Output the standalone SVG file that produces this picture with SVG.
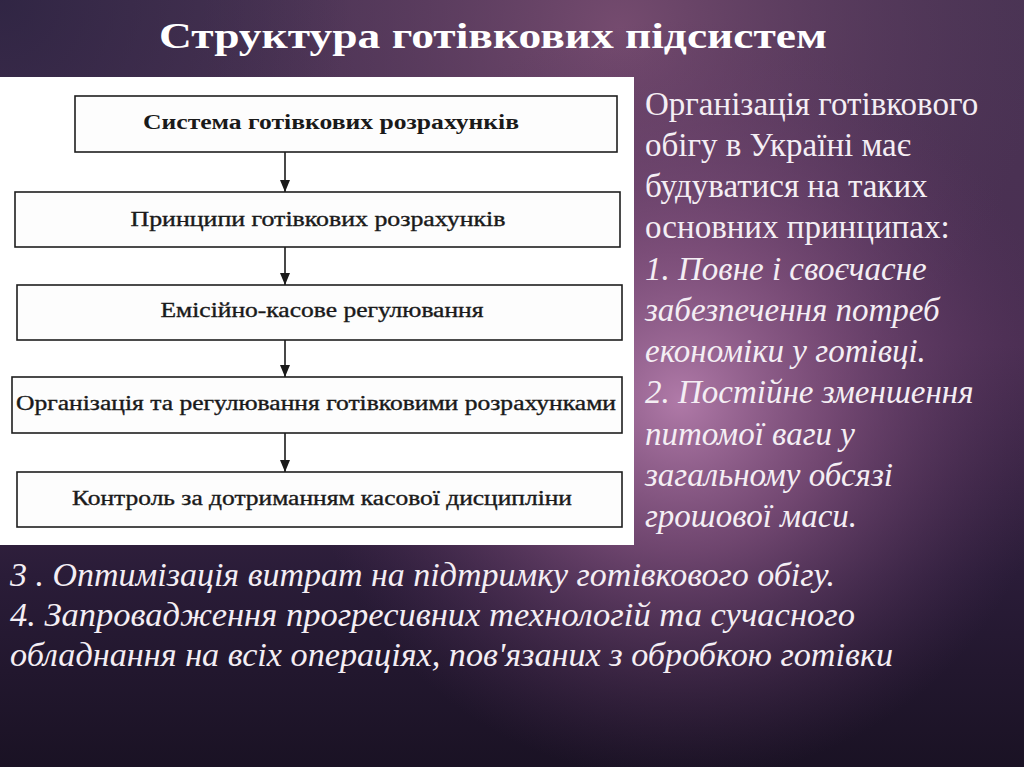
<svg xmlns="http://www.w3.org/2000/svg" width="1024" height="767" viewBox="0 0 1024 767">
<defs>
<linearGradient id="bg" x1="0" y1="0" x2="0" y2="1">
<stop offset="0" stop-color="#4a3454"/>
<stop offset="0.45" stop-color="#4a2e52"/>
<stop offset="0.75" stop-color="#2a1c38"/>
<stop offset="1" stop-color="#1a1224"/>
</linearGradient>
<radialGradient id="glow" cx="680" cy="400" r="380" gradientUnits="userSpaceOnUse">
<stop offset="0" stop-color="#b07aa8" stop-opacity="1"/>
<stop offset="0.4" stop-color="#8a5684" stop-opacity="0.7"/>
<stop offset="1" stop-color="#5a3460" stop-opacity="0"/>
</radialGradient>
<radialGradient id="glow2" cx="620" cy="30" r="420" gradientUnits="userSpaceOnUse">
<stop offset="0" stop-color="#7a4e72" stop-opacity="0.9"/>
<stop offset="1" stop-color="#5a3a5e" stop-opacity="0"/>
</radialGradient>
<radialGradient id="dark" cx="0" cy="0" r="350" gradientUnits="userSpaceOnUse">
<stop offset="0" stop-color="#2a2240" stop-opacity="0.8"/>
<stop offset="1" stop-color="#2a2240" stop-opacity="0"/>
</radialGradient>
<marker id="arr" viewBox="0 0 12 10" refX="12" refY="5" markerWidth="12" markerHeight="10" markerUnits="userSpaceOnUse" orient="auto">
<path d="M0,0 L12,5 L0,10 Z" fill="#1a1a1a"/>
</marker>
<style>
.box{fill:#fdfdfd;stroke:#1e1e1e;stroke-width:1.6}
.bt{font-family:"Liberation Serif","Times New Roman",serif;font-size:20px;fill:#1a1a1a;text-anchor:middle;font-weight:normal;stroke:#1a1a1a;stroke-width:0.35}
.bt1{font-weight:bold;stroke-width:0}
.conn{stroke:#1a1a1a;stroke-width:1.6;fill:none}
.rt{font-family:"Liberation Serif","Times New Roman",serif;font-size:33px;fill:#f4eef4}
.it{font-style:italic}
.bot{font-family:"Liberation Serif","Times New Roman",serif;font-size:34px;fill:#f4eef4;font-style:italic}
</style>
</defs>
<rect width="1024" height="767" fill="url(#bg)"/>
<rect width="1024" height="767" fill="url(#glow2)"/>
<rect width="1024" height="767" fill="url(#glow)"/>
<rect width="1024" height="767" fill="url(#dark)"/>
<text x="493" y="48" font-family="Liberation Serif, Times New Roman, serif" font-size="36" font-weight="bold" fill="#ffffff" text-anchor="middle" textLength="668" lengthAdjust="spacingAndGlyphs">Структура готівкових підсистем</text>
<rect x="0" y="77" width="634" height="468" fill="#ffffff"/>
<g id="connectors">
<line class="conn" x1="285" y1="152" x2="285" y2="192" marker-end="url(#arr)"/>
<line class="conn" x1="285" y1="247" x2="285" y2="285" marker-end="url(#arr)"/>
<line class="conn" x1="285" y1="340" x2="285" y2="377" marker-end="url(#arr)"/>
<line class="conn" x1="285" y1="433" x2="285" y2="472" marker-end="url(#arr)"/>
</g>
<g id="node1"><rect class="box" x="75" y="96" width="542" height="56"/><text class="bt bt1" x="331" y="129" textLength="376" lengthAdjust="spacingAndGlyphs">Система готівкових розрахунків</text></g>
<g id="node2"><rect class="box" x="15" y="192" width="605" height="55"/><text class="bt" x="318" y="226" textLength="375" lengthAdjust="spacingAndGlyphs">Принципи готівкових розрахунків</text></g>
<g id="node3"><rect class="box" x="17" y="285" width="605" height="55"/><text class="bt" x="322" y="317" textLength="323" lengthAdjust="spacingAndGlyphs">Емісійно-касове регулювання</text></g>
<g id="node4"><rect class="box" x="12" y="377" width="610" height="56"/><text class="bt" x="316" y="410" textLength="600" lengthAdjust="spacingAndGlyphs">Організація та регулювання готівковими розрахунками</text></g>
<g id="node5"><rect class="box" x="17" y="472" width="605" height="55"/><text class="bt" x="322" y="505" textLength="500" lengthAdjust="spacingAndGlyphs">Контроль за дотриманням касової дисципліни</text></g>
<g id="righttext">
<text class="rt" x="645" y="115">Організація готівкового</text>
<text class="rt" x="645" y="156">обігу в Україні має</text>
<text class="rt" x="645" y="197">будуватися на таких</text>
<text class="rt" x="645" y="238">основних принципах:</text>
<text class="rt it" x="645" y="280">1. Повне і своєчасне</text>
<text class="rt it" x="645" y="321">забезпечення потреб</text>
<text class="rt it" x="645" y="362">економіки у готівці.</text>
<text class="rt it" x="645" y="403">2. Постійне зменшення</text>
<text class="rt it" x="645" y="445">питомої ваги у</text>
<text class="rt it" x="645" y="486">загальному обсязі</text>
<text class="rt it" x="645" y="527">грошової маси.</text>
</g>
<g id="bottomtext">
<text class="bot" x="10" y="586" textLength="825" lengthAdjust="spacingAndGlyphs">3 . Оптимізація витрат на підтримку готівкового обігу.</text>
<text class="bot" x="10" y="626" textLength="845" lengthAdjust="spacingAndGlyphs">4.  Запровадження прогресивних технологій та сучасного</text>
<text class="bot" x="10" y="666" textLength="883" lengthAdjust="spacingAndGlyphs">обладнання на всіх операціях, пов'язаних з обробкою готівки</text>
</g>
</svg>
